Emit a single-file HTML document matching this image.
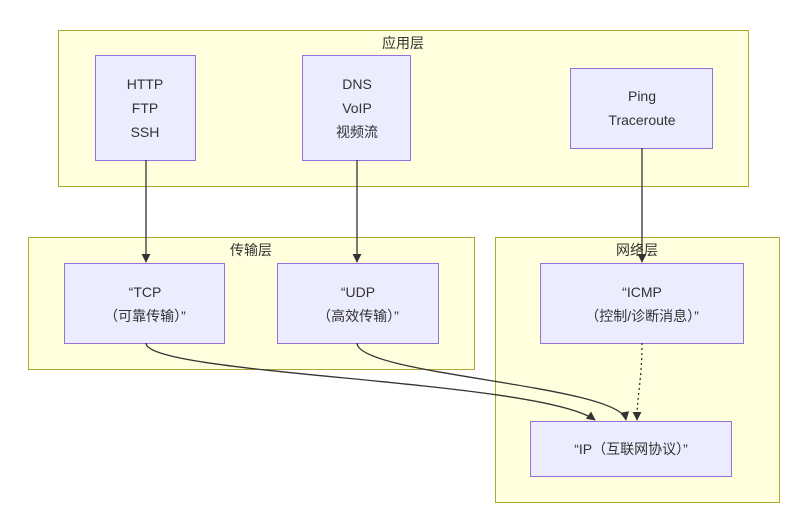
<!DOCTYPE html>
<html><head><meta charset="utf-8"><style>
html,body{margin:0;padding:0;background:#fff;}
svg{display:block;}
text{font-family:"Liberation Sans","Noto Sans CJK SC",sans-serif;font-size:14px;fill:#333;text-anchor:middle;}
.c{fill:#ffffde;stroke:#aaaa33;stroke-width:1;}
.n{fill:#ececff;stroke:#9370db;stroke-width:1;}
.e{fill:none;stroke:#333;stroke-width:1.3;}
</style></head><body>
<svg width="789" height="508" viewBox="0 0 789 508" xmlns="http://www.w3.org/2000/svg">
<defs><marker id="a" viewBox="0 0 10 10" refX="9" refY="5" markerWidth="7" markerHeight="7" orient="auto"><path d="M0,0L10,5L0,10z" fill="#333"/></marker></defs>
<rect class="c" x="58.5" y="30.5" width="690" height="156"/>
<text x="403" y="48">应用层</text>
<rect class="c" x="28.5" y="237.5" width="446" height="132"/>
<text x="251" y="255">传输层</text>
<rect class="c" x="495.5" y="237.5" width="284" height="265"/>
<text x="637" y="255">网络层</text>

<rect class="n" x="95.5" y="55.5" width="100" height="105"/>
<text x="145" y="89">HTTP</text><text x="145" y="113">FTP</text><text x="145" y="137">SSH</text>
<rect class="n" x="302.5" y="55.5" width="108" height="105"/>
<text x="357" y="89">DNS</text><text x="357" y="113">VoIP</text><text x="357" y="137">视频流</text>
<rect class="n" x="570.5" y="68.5" width="142" height="80"/>
<text x="642" y="101">Ping</text><text x="642" y="125">Traceroute</text>

<rect class="n" x="64.5" y="263.5" width="160" height="80"/>
<text x="145" y="297">“TCP</text><text x="145" y="321">（可靠传输）”</text>
<rect class="n" x="277.5" y="263.5" width="161" height="80"/>
<text x="358" y="297">“UDP</text><text x="358" y="321">（高效传输）”</text>
<rect class="n" x="540.5" y="263.5" width="203" height="80"/>
<text x="642" y="297">“ICMP</text><text x="642" y="321">（控制/诊断消息）”</text>
<rect class="n" x="530.5" y="421.5" width="201" height="55"/>
<text x="631" y="454">“IP（互联网协议）”</text>

<path class="e" d="M146,160V262" marker-end="url(#a)"/>
<path class="e" d="M357,160V262" marker-end="url(#a)"/>
<path class="e" d="M642,148V262" marker-end="url(#a)"/>
<path class="e" d="M146,343C146,375 540,380 595,420" marker-end="url(#a)"/>
<path class="e" d="M357,343C357,375 620,385 626,420" marker-end="url(#a)"/>
<path class="e" d="M642,343C642,380 637,395 637,420" stroke-dasharray="2,3" marker-end="url(#a)"/>
</svg>
</body></html>
